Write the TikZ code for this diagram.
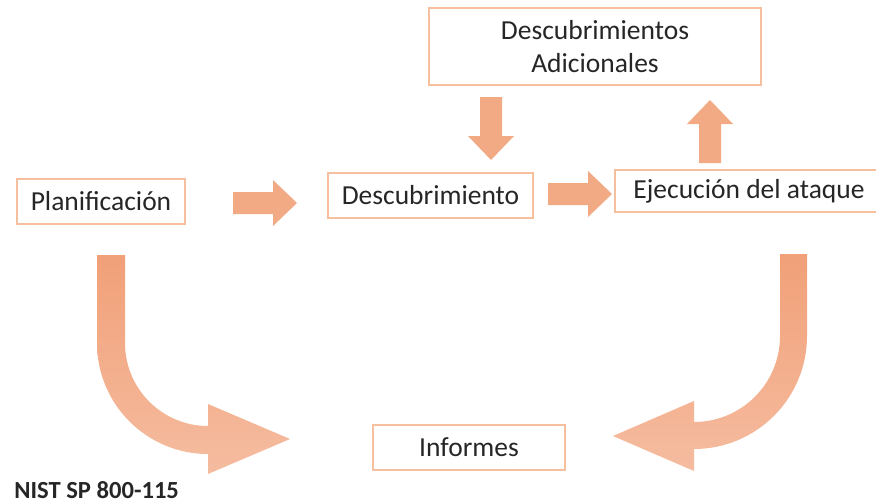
\documentclass[tikz,border=0pt]{standalone}
\usepackage{fontspec}
\setmainfont{Carlito}
\definecolor{borde}{RGB}{246,192,158}
\definecolor{naranja}{RGB}{242,170,132}
\definecolor{naranjaA}{RGB}{241,160,120}
\definecolor{naranjaB}{RGB}{245,188,160}
\definecolor{texto}{RGB}{38,38,38}
% flecha recta: origen, giro, largo
\newcommand{\flecha}[3]{\fill[flecha,shift={(#1)},rotate=#2] (0,-11) -- (#3-24,-11) -- (#3-24,-23) -- (#3,0) -- (#3-24,23) -- (#3-24,11) -- (0,11) -- cycle;}
\begin{document}
\begin{tikzpicture}[x=0.5pt,y=-0.5pt,
		caja/.style={draw=borde,line width=1pt,fill=white,text=texto,inner sep=0pt,align=center,font=\fontsize{13.75}{16.5}\selectfont},
		flecha/.style={fill=naranja},
		curva/.style={top color=naranjaA,bottom color=naranjaB,draw=none}]
			\useasboundingbox (0,0) rectangle (876,503);
			\node[caja,minimum width=84pt,minimum height=22.5pt] (plan) at (101,201.5) {Planificación};
			\node[caja,minimum width=102.5pt,minimum height=22.5pt] (desc) at (430.5,195.5) {Descubrimiento};
			\node[caja,minimum width=166pt,minimum height=38.5pt] (adic) at (595,46.5) {Descubrimientos\\Adicionales};
			\node[caja,minimum width=134pt,minimum height=21pt] (ejec) at (749,191) {Ejecución del ataque};
			\node[caja,minimum width=96pt,minimum height=22.5pt] (inf) at (469,447.5) {Informes};
			\node[anchor=west,inner sep=0pt,text=texto,font=\fontsize{12.3}{14}\selectfont\bfseries] (nist) at (14,490) {NIST SP 800-115};
			\coordinate (f1) at (233,203);
			\coordinate (f2) at (548,194);
			\coordinate (f3) at (491,97);
			\coordinate (f4) at (710,163);
			\flecha{f1}{0}{64}
			\flecha{f2}{0}{64}
			\flecha{f3}{-90}{63}
			\flecha{f4}{90}{63}
			%\draw (plan) -- (inf);
			\shade[curva] (97,255) -- (97,343) arc[start angle=180,end angle=270,radius=55.5pt] -- (208,474) -- (290,439) -- (208,404) -- (208,426) arc[start angle=270,end angle=180,radius=41.5pt] -- (125,255) -- cycle;
			\shade[curva] (780,254) -- (780,336) arc[start angle=0,end angle=-90,radius=43pt] -- (694,401) -- (613,436) -- (694,471) -- (694,449) arc[start angle=-90,end angle=0,radius=56.5pt] -- (807,254) -- cycle;
		\end{tikzpicture}
\end{document}
